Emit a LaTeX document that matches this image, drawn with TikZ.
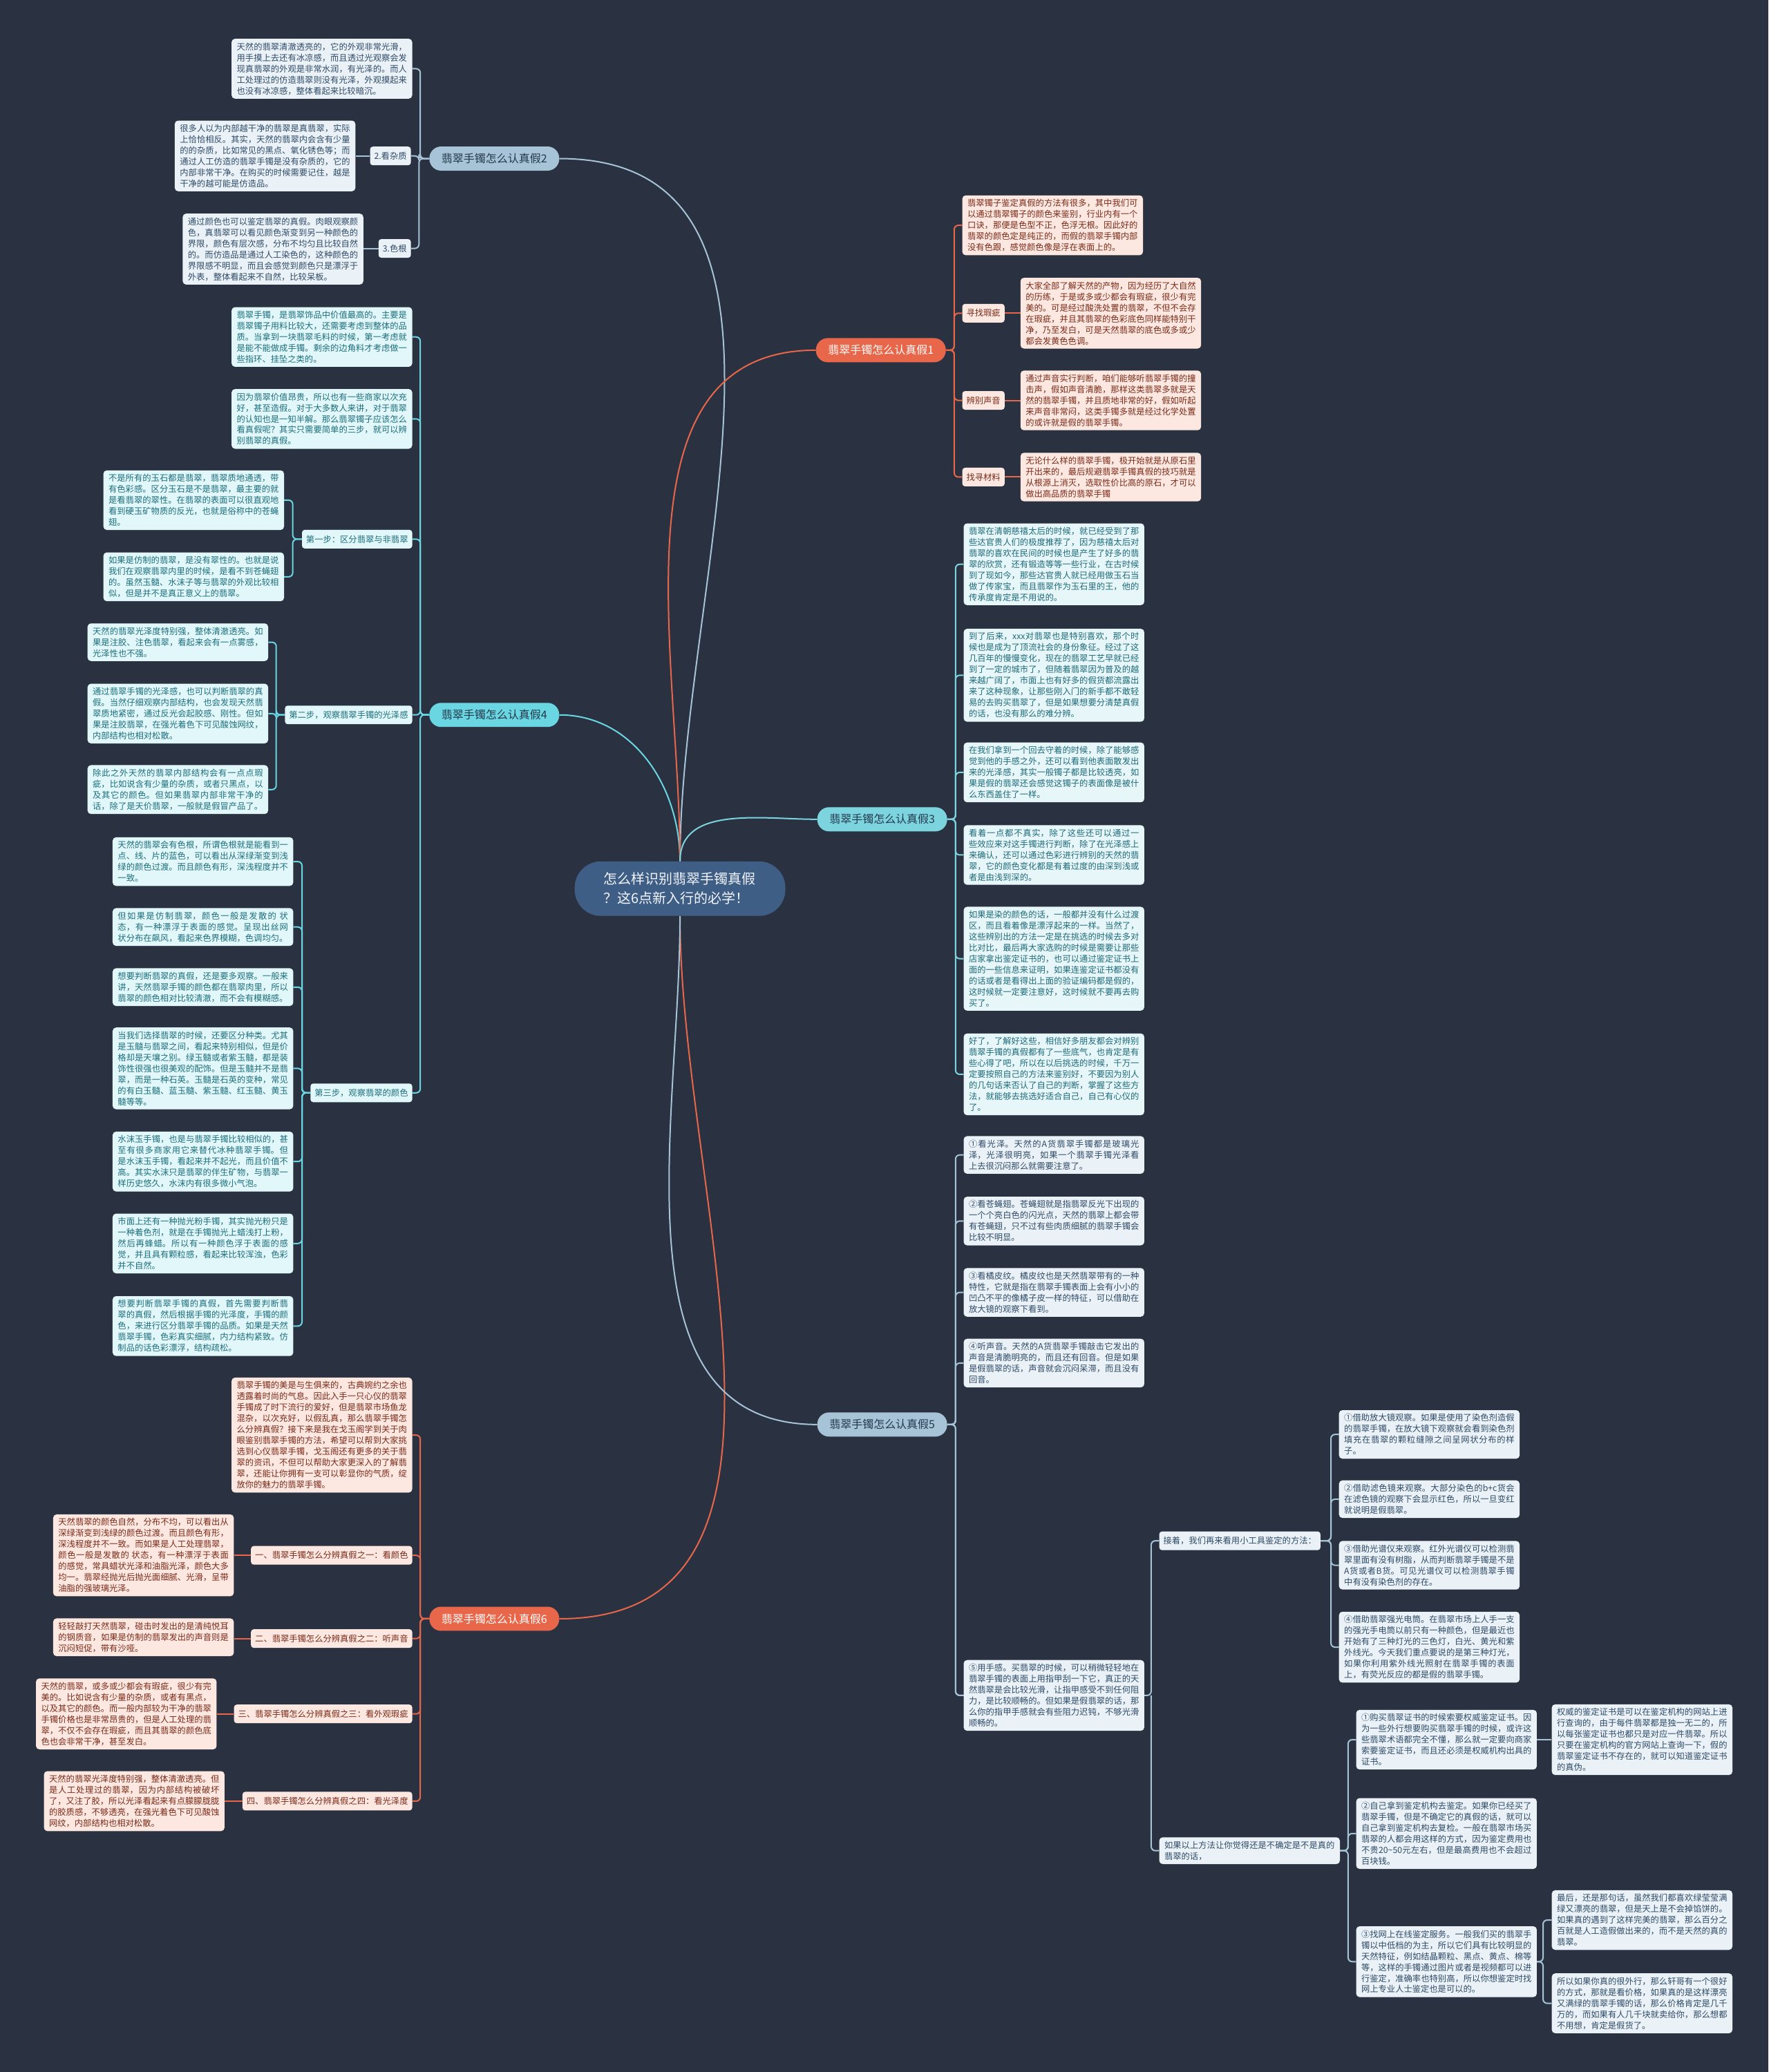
\documentclass[tikz,border=0pt]{standalone}
\usepackage{fontspec}
\setmainfont{Noto Sans CJK SC}
\usetikzlibrary{calc}
\XeTeXlinebreaklocale "zh"
\XeTeXlinebreakskip=0pt plus 1pt
\pgfdeclarelayer{back}
\pgfdeclarelayer{lines}
\pgfsetlayers{back,lines,main}
\definecolor{bgc}{HTML}{2A3241}
\definecolor{centerc}{HTML}{3F5E86}
\definecolor{centert}{HTML}{F2F5F9}
\definecolor{darkt}{HTML}{25384C}
\definecolor{greyb}{HTML}{A6C3D8}
\definecolor{greyl}{HTML}{EBF2F7}
\definecolor{greyt}{HTML}{2E4A66}
\definecolor{cyanb}{HTML}{6AD6E2}
\definecolor{cyanl}{HTML}{E2F7F9}
\definecolor{cyant}{HTML}{1B6E7C}
\definecolor{aquab}{HTML}{7CD4DF}
\definecolor{aqual}{HTML}{E6F6F9}
\definecolor{aquat}{HTML}{1E6A78}
\definecolor{redb}{HTML}{E8674A}
\definecolor{redl}{HTML}{FCE8E1}
\definecolor{redt}{HTML}{7A2A18}
\tikzset{
  leaf/.style={rounded corners=5pt, text width=246.5pt, inner xsep=7.5pt, inner ysep=5.5pt, align=justify, font=\fontsize{12.3pt}{16pt}\selectfont},
  gl/.style={leaf, fill=greyl, text=greyt},
  cl/.style={leaf, fill=cyanl, text=cyant},
  al/.style={leaf, fill=aqual, text=aquat},
  rl/.style={leaf, fill=redl, text=redt},
  lab/.style={rounded corners=4pt, inner xsep=6pt, inner ysep=0pt, minimum height=27pt, font=\fontsize{12.3pt}{15pt}\selectfont},
  glab/.style={lab, fill=greyl, text=greyt},
  clab/.style={lab, fill=cyanl, text=cyant},
  rlab/.style={lab, fill=redl, text=redt},
  branch/.style={rounded corners=17pt, minimum width=188pt, minimum height=35pt, inner sep=0pt, font=\fontsize{16pt}{18pt}\selectfont},
  centre/.style={fill=centerc, text=centert, rounded corners=38pt, minimum width=305pt, minimum height=79pt, text width=222pt, inner xsep=41pt, align=left, font=\fontsize{20pt}{28pt}\selectfont},
  conn/.style={line width=2pt, rounded corners=6pt}
}
\newcommand\myl[4]{\draw[conn,#1] (#2.west) -| ($(#3.east)+(#4,0)$) -- (#3.east);}
\newcommand\myr[4]{\draw[conn,#1] (#2.east) -| ($(#3.west)+(-#4,0)$) -- (#3.west);}
\newcommand\myh[3]{\draw[conn,#1] (#2.west) -- (#2.west -| #3.east);}
\newcommand\myhr[3]{\draw[conn,#1] (#2.east) -- (#2.east -| #3.west);}
\begin{document}
\begin{tikzpicture}[x=1.9133pt,y=-1.9133pt]
\begin{pgfonlayer}{back}
\fill[bgc] (0,0) rectangle (1338,1568);
\end{pgfonlayer}
\useasboundingbox (0,0) rectangle (1338,1568);

% centre and branches
\node[centre] (C) at (514.5,672.5) {怎么样识别翡翠手镯真假\\？这6点新入行的必学！};
\node[branch, fill=greyb, text=darkt] (B2) at (374,120) {翡翠手镯怎么认真假2};
\node[branch, fill=cyanb, text=darkt] (B4) at (374,541) {翡翠手镯怎么认真假4};
\node[branch, fill=redb, text=white] (B6) at (374,1225) {翡翠手镯怎么认真假6};
\node[branch, fill=redb, text=white] (B1) at (666.5,265) {翡翠手镯怎么认真假1};
\node[branch, fill=aquab, text=darkt] (B3) at (667.5,620) {翡翠手镯怎么认真假3};
\node[branch, fill=greyb, text=darkt] (B5) at (667.5,1078) {翡翠手镯怎么认真假5};

% branch 2
\node[gl, anchor=east] (L2a) at (312,52) {天然的翡翠清澈透亮的，它的外观非常光滑，用手摸上去还有冰凉感，而且透过光观察会发现真翡翠的外观是非常水润，有光泽的。而人工处理过的仿造翡翠则没有光泽，外观摸起来也没有冰凉感，整体看起来比较暗沉。};
\node[glab, anchor=east] (lab2b) at (311,118) {2.看杂质};
\node[gl, anchor=east] (L2b) at (269,118) {很多人以为内部越干净的翡翠是真翡翠，实际上恰恰相反。其实，天然的翡翠内会含有少量的的杂质，比如常见的黑点、氧化锈色等；而通过人工仿造的翡翠手镯是没有杂质的，它的内部非常干净。在购买的时候需要记住，越是干净的越可能是仿造品。};
\node[glab, anchor=east] (lab2c) at (311,188) {3.色根};
\node[gl, anchor=east] (L2c) at (275,188.5) {通过颜色也可以鉴定翡翠的真假。肉眼观察颜色，真翡翠可以看见颜色渐变到另一种颜色的界限，颜色有层次感，分布不均匀且比较自然的。而仿造品是通过人工染色的，这种颜色的界限感不明显，而且会感觉到颜色只是漂浮于外表，整体看起来不自然，比较呆板。};

% branch 4
\node[cl, anchor=east] (L4a) at (312,255) {翡翠手镯，是翡翠饰品中价值最高的。主要是翡翠镯子用料比较大，还需要考虑到整体的品质。当拿到一块翡翠毛料的时候，第一考虑就是能不能做成手镯。剩余的边角料才考虑做一些指环、挂坠之类的。};
\node[cl, anchor=east] (L4b) at (312,317) {因为翡翠价值昂贵，所以也有一些商家以次充好，甚至造假。对于大多数人来讲，对于翡翠的认知也是一知半解。那么翡翠镯子应该怎么看真假呢？其实只需要简单的三步，就可以辨别翡翠的真假。};
\node[clab, anchor=east] (S1) at (312,408) {第一步：区分翡翠与非翡翠};
\node[cl, anchor=east] (L4c) at (215,378.5) {不是所有的玉石都是翡翠，翡翠质地通透，带有色彩感。区分玉石是不是翡翠，最主要的就是看翡翠的翠性。在翡翠的表面可以很直观地看到硬玉矿物质的反光，也就是俗称中的苍蝇翅。};
\node[cl, anchor=east] (L4d) at (215,436.5) {如果是仿制的翡翠，是没有翠性的。也就是说我们在观察翡翠内里的时候，是看不到苍蝇翅的。虽然玉髓、水沫子等与翡翠的外观比较相似，但是并不是真正意义上的翡翠。};
\node[clab, anchor=east] (S2) at (312,541) {第二步，观察翡翠手镯的光泽感};
\node[cl, anchor=east] (L4e) at (203,486) {天然的翡翠光泽度特别强，整体清澈透亮。如果是注胶、注色翡翠，看起来会有一点雾感，光泽性也不强。};
\node[cl, anchor=east] (L4f) at (203,540) {通过翡翠手镯的光泽感，也可以判断翡翠的真假。当然仔细观察内部结构，也会发现天然翡翠质地紧密，通过反光会起胶感、刚性。但如果是注胶翡翠，在强光着色下可见酸蚀网纹，内部结构也相对松散。};
\node[cl, anchor=east] (L4g) at (203,597.5) {除此之外天然的翡翠内部结构会有一点点瑕疵，比如说含有少量的杂质，或者只黑点，以及其它的颜色。但如果翡翠内部非常干净的话，除了是天价翡翠，一般就是假冒产品了。};
\node[clab, anchor=east] (S3) at (312,827) {第三步，观察翡翠的颜色};
\node[cl, anchor=east] (L4h) at (222,652) {天然的翡翠会有色根，所谓色根就是能看到一点、线、片的蓝色，可以看出从深绿渐变到浅绿的颜色过渡。而且颜色有形，深浅程度并不一致。};
\node[cl, anchor=east] (L4i) at (222,701.5) {但如果是仿制翡翠，颜色一般是发散的 状态，有一种漂浮于表面的感觉。呈现出丝网状分布在飙风，看起来色界模糊，色调均匀。};
\node[cl, anchor=east] (L4j) at (222,747) {想要判断翡翠的真假，还是要多观察。一般来讲，天然翡翠手镯的颜色都在翡翠肉里，所以翡翠的颜色相对比较清澈，而不会有模糊感。};
\node[cl, anchor=east] (L4k) at (222,808.5) {当我们选择翡翠的时候，还要区分种类。尤其是玉髓与翡翠之间，看起来特别相似，但是价格却是天壤之别。绿玉髓或者紫玉髓，都是装饰性很强也很美观的配饰。但是玉髓并不是翡翠，而是一种石英。玉髓是石英的变种，常见的有白玉髓、蓝玉髓、紫玉髓、红玉髓、黄玉髓等等。};
\node[cl, anchor=east] (L4l) at (222,879) {水沫玉手镯，也是与翡翠手镯比较相似的，甚至有很多商家用它来替代冰种翡翠手镯。但是水沫玉手镯，看起来并不起光，而且价值不高。其实水沫只是翡翠的伴生矿物，与翡翠一样历史悠久，水沫内有很多微小气泡。};
\node[cl, anchor=east] (L4m) at (222,941) {市面上还有一种抛光粉手镯，其实抛光粉只是一种着色剂，就是在手镯抛光上蜡浅打上粉，然后再蜂蜡。所以有一种颜色浮于表面的感觉，并且具有颗粒感，看起来比较浑浊，色彩并不自然。};
\node[cl, anchor=east] (L4n) at (222,1003.5) {想要判断翡翠手镯的真假，首先需要判断翡翠的真假，然后根据手镯的光泽度，手镯的颜色，来进行区分翡翠手镯的品质。如果是天然翡翠手镯，色彩真实细腻，内力结构紧致。仿制品的话色彩漂浮，结构疏松。};

% branch 6
\node[rl, anchor=east] (L6a) at (312,1086) {翡翠手镯的美是与生俱来的，古典婉约之余也透露着时尚的气息。因此入手一只心仪的翡翠手镯成了时下流行的爱好，但是翡翠市场鱼龙混杂，以次充好，以假乱真，那么翡翠手镯怎么分辨真假？接下来是我在戈玉阁学到关于肉眼鉴别翡翠手镯的方法，希望可以帮到大家挑选到心仪翡翠手镯，戈玉阁还有更多的关于翡翠的资讯，不但可以帮助大家更深入的了解翡翠，还能让你拥有一支可以彰显你的气质，绽放你的魅力的翡翠手镯。};
\node[rlab, anchor=east] (lab6b) at (312,1177) {一、翡翠手镯怎么分辨真假之一：看颜色};
\node[rl, anchor=east] (L6b) at (177,1177) {天然翡翠的颜色自然，分布不均，可以看出从深绿渐变到浅绿的颜色过渡。而且颜色有形，深浅程度并不一致。而如果是人工处理翡翠，颜色一般是发散的 状态，有一种漂浮于表面的感觉，常具蜡状光泽和油脂光泽，颜色大多均一。翡翠经抛光后抛光面细腻、光滑，呈带油脂的强玻璃光泽。};
\node[rlab, anchor=east] (lab6c) at (312,1240) {二、翡翠手镯怎么分辨真假之二：听声音};
\node[rl, anchor=east] (L6c) at (177,1239) {轻轻敲打天然翡翠，碰击时发出的是清纯悦耳的钢质音，如果是仿制的翡翠发出的声音则是沉闷短促，带有沙哑。};
\node[rlab, anchor=east] (lab6d) at (312,1297) {三、翡翠手镯怎么分辨真假之三：看外观瑕疵};
\node[rl, anchor=east] (L6d) at (164,1297) {天然的翡翠，或多或少都会有瑕疵，很少有完美的。比如说含有少量的杂质，或者有黑点，以及其它的颜色。而一般内部较为干净的翡翠手镯价格也是非常昂贵的，但是人工处理的翡翠，不仅不会存在瑕疵，而且其翡翠的颜色底色也会非常干净，甚至发白。};
\node[rlab, anchor=east] (lab6e) at (312,1363) {四、翡翠手镯怎么分辨真假之四：看光泽度};
\node[rl, anchor=east] (L6e) at (170,1363) {天然的翡翠光泽度特别强，整体清澈透亮。但是人工处理过的翡翠，因为内部结构被破坏了，又注了胶，所以光泽看起来有点朦朦胧胧的胶质感，不够透亮，在强光着色下可见酸蚀网纹，内部结构也相对松散。};

% branch 1
\node[rl, anchor=west] (L1a) at (728,170.5) {翡翠镯子鉴定真假的方法有很多，其中我们可以通过翡翠镯子的颜色来鉴别，行业内有一个口诀，那便是色型不正，色浮无根。因此好的翡翠的颜色定是纯正的，而假的翡翠手镯内部没有色跟，感觉颜色像是浮在表面上的。};
\node[rlab, anchor=west] (lab1b) at (728,237) {寻找瑕疵};
\node[rl, anchor=west] (L1b) at (772,237) {大家全部了解天然的产物，因为经历了大自然的历练，于是或多或少都会有瑕疵，很少有完美的。可是经过酸洗处置的翡翠，不但不会存在瑕疵，并且其翡翠的色彩底色同样能特别干净，乃至发白，可是天然翡翠的底色或多或少都会发黄色色调。};
\node[rlab, anchor=west] (lab1c) at (728,303) {辨别声音};
\node[rl, anchor=west] (L1c) at (772,303) {通过声音实行判断，咱们能够听翡翠手镯的撞击声，假如声音清脆，那样这类翡翠多就是天然的翡翠手镯，并且质地非常的好，假如听起来声音非常闷，这类手镯多就是经过化学处置的或许就是假的翡翠手镯。};
\node[rlab, anchor=west] (lab1d) at (728,361) {找寻材料};
\node[rl, anchor=west] (L1d) at (772,361) {无论什么样的翡翠手镯，极开始就是从原石里开出来的，最后规避翡翠手镯真假的技巧就是从根源上消灭，选取性价比高的原石，才可以做出高品质的翡翠手镯};

% branch 3
\node[al, anchor=west] (L3a) at (729,427) {翡翠在清朝慈禧太后的时候，就已经受到了那些达官贵人们的极度推荐了，因为慈禧太后对翡翠的喜欢在民间的时候也是产生了好多的翡翠的欣赏，还有锻造等等一些行业，在古时候到了现如今，那些达官贵人就已经用做玉石当做了传家宝，而且翡翠作为玉石里的王，他的传承度肯定是不用说的。};
\node[al, anchor=west] (L3b) at (729,511) {到了后来，xxx对翡翠也是特别喜欢，那个时候也是成为了顶流社会的身份象征。经过了这几百年的慢慢变化，现在的翡翠工艺早就已经到了一定的城市了，但随着翡翠因为普及的越来越广阔了，市面上也有好多的假货都流露出来了这种现象，让那些刚入门的新手都不敢轻易的去购买翡翠了，但是如果想要分清楚真假的话，也没有那么的难分辨。};
\node[al, anchor=west] (L3c) at (729,584.5) {在我们拿到一个回去守着的时候，除了能够感觉到他的手感之外，还可以看到他表面散发出来的光泽感，其实一般镯子都是比较透亮，如果是假的翡翠还会感觉这镯子的表面像是被什么东西盖住了一样。};
\node[al, anchor=west] (L3d) at (729,647) {看着一点都不真实，除了这些还可以通过一些效应来对这手镯进行判断，除了在光泽感上来确认，还可以通过色彩进行辨别的天然的翡翠，它的颜色变化都是有着过度的由深到浅或者是由浅到深的。};
\node[al, anchor=west] (L3e) at (729,725.5) {如果是染的颜色的话，一般都并没有什么过渡区，而且看着像是漂浮起来的一样。当然了，这些辨别出的方法一定是在挑选的时候去多对比对比，最后再大家选购的时候是需要让那些店家拿出鉴定证书的，也可以通过鉴定证书上面的一些信息来证明，如果连鉴定证书都没有的话或者是看得出上面的验证编码都是假的，这时候就一定要注意好，这时候就不要再去购买了。};
\node[al, anchor=west] (L3f) at (729,813) {好了，了解好这些，相信好多朋友都会对辨别翡翠手镯的真假都有了一些底气，也肯定是有些心得了吧，所以在以后挑选的时候，千万一定要按照自己的方法来鉴别好，不要因为别人的几句话来否认了自己的判断，掌握了这些方法，就能够去挑选好适合自己，自己有心仪的了。};

% branch 5
\node[gl, anchor=west] (L5a) at (729,874) {①看光泽。天然的A货翡翠手镯都是玻璃光泽，光泽很明亮，如果一个翡翠手镯光泽看上去很沉闷那么就需要注意了。};
\node[gl, anchor=west] (L5b) at (729,924) {②看苍蝇翅。苍蝇翅就是指翡翠反光下出现的一个个亮白色的闪光点，天然的翡翠上都会带有苍蝇翅，只不过有些肉质细腻的翡翠手镯会比较不明显。};
\node[gl, anchor=west] (L5c) at (729,978) {③看橘皮纹。橘皮纹也是天然翡翠带有的一种特性，它就是指在翡翠手镯表面上会有小小的凹凸不平的像橘子皮一样的特征，可以借助在放大镜的观察下看到。};
\node[gl, anchor=west] (L5d) at (729,1031.5) {④听声音。天然的A货翡翠手镯敲击它发出的声音是清脆明亮的，而且还有回音。但是如果是假翡翠的话，声音就会沉闷呆滞，而且没有回音。};
\node[gl, anchor=west] (L5e) at (729,1283) {⑤用手感。买翡翠的时候，可以稍微轻轻地在翡翠手镯的表面上用指甲刮一下它，真正的天然翡翠是会比较光滑，让指甲感受不到任何阻力，是比较顺畅的。但如果是假翡翠的话，那么你的指甲手感就会有些阻力迟钝，不够光滑顺畅的。};
\node[glab, anchor=west] (labT) at (877,1166) {接着，我们再来看用小工具鉴定的方法：};
\node[gl, anchor=west] (T1) at (1013,1085.5) {①借助放大镜观察。如果是使用了染色剂造假的翡翠手镯，在放大镜下观察就会看到染色剂填充在翡翠的颗粒缝隙之间呈网状分布的样子。};
\node[gl, anchor=west] (T2) at (1013,1134.5) {②借助滤色镜来观察。大部分染色的b+c货会在滤色镜的观察下会显示红色，所以一旦变红就说明是假翡翠。};
\node[gl, anchor=west] (T3) at (1013,1184.5) {③借助光谱仪来观察。红外光谱仪可以检测翡翠里面有没有树脂，从而判断翡翠手镯是不是A货或者B货。可见光谱仪可以检测翡翠手镯中有没有染色剂的存在。};
\node[gl, anchor=west] (T4) at (1013,1246.5) {④借助翡翠强光电筒。在翡翠市场上人手一支的强光手电筒以前只有一种颜色，但是最近也开始有了三种灯光的三色灯，白光、黄光和紫外线光。今天我们重点要说的是第三种灯光，如果你利用紫外线光照射在翡翠手镯的表面上，有荧光反应的都是假的翡翠手镯。};
\node[gl, anchor=west] (labU) at (877,1400.5) {如果以上方法让你觉得还是不确定是不是真的翡翠的话，};
\node[gl, anchor=west] (U1) at (1026,1316.5) {①购买翡翠证书的时候索要权威鉴定证书。因为一些外行想要购买翡翠手镯的时候，或许这些翡翠术语都完全不懂，那么就一定要向商家索要鉴定证书，而且还必须是权威机构出具的证书。};
\node[gl, anchor=west] (V1) at (1174,1316.5) {权威的鉴定证书是可以在鉴定机构的网站上进行查询的，由于每件翡翠都是独一无二的，所以每张鉴定证书也都只是对应一件翡翠。所以只要在鉴定机构的官方网站上查询一下，假的翡翠鉴定证书不存在的，就可以知道鉴定证书的真伪。};
\node[gl, anchor=west] (U2) at (1026,1387.5) {②自己拿到鉴定机构去鉴定。如果你已经买了翡翠手镯，但是不确定它的真假的话，就可以自己拿到鉴定机构去复检。一般在翡翠市场买翡翠的人都会用这样的方式，因为鉴定费用也不贵20\textasciitilde50元左右，但是最高费用也不会超过百块钱。};
\node[gl, anchor=west] (U3) at (1026,1484.5) {③找网上在线鉴定服务。一般我们买的翡翠手镯以中低档的为主，所以它们具有比较明显的天然特征，例如结晶颗粒、黑点、黄点、棉等等，这样的手镯通过图片或者是视频都可以进行鉴定，准确率也特别高，所以你想鉴定时找网上专业人士鉴定也是可以的。};
\node[gl, anchor=west] (W1) at (1174,1453) {最后，还是那句话，虽然我们都喜欢绿莹莹满绿又漂亮的翡翠，但是天上是不会掉馅饼的。如果真的遇到了这样完美的翡翠，那么百分之百就是人工造假做出来的，而不是天然的真的翡翠。};
\node[gl, anchor=west] (W2) at (1174,1516) {所以如果你真的很外行，那么轩哥有一个很好的方式，那就是看价格，如果真的是这样漂亮又满绿的翡翠手镯的话，那么价格肯定是几千万的，而如果有人几千块就卖给你，那么想都不用想，肯定是假货了。};

\begin{pgfonlayer}{lines}
% centre to branches
\draw[conn, greyb] (C.north) to[out=90,in=0] (B2.east);
\draw[conn, cyanb] (C.north) to[out=90,in=0] (B4.east);
\draw[conn, redb] (C.north) to[out=90,in=180] (B1.west);
\draw[conn, aquab] (C.north) to[out=90,in=180] (B3.west);
\draw[conn, redb] (C.south) to[out=-90,in=0] (B6.east);
\draw[conn, greyb] (C.south) to[out=-90,in=180] (B5.west);
% branch 2
\myl{greyb}{B2}{L2a}{6}
\myl{greyb}{B2}{lab2b}{6}
\myl{greyb}{B2}{lab2c}{6}
\myh{greyb}{lab2b}{L2b}
\myh{greyb}{lab2c}{L2c}
% branch 4
\myl{cyanb}{B4}{L4a}{6}
\myl{cyanb}{B4}{L4b}{6}
\myl{cyanb}{B4}{S1}{6}
\myl{cyanb}{B4}{S2}{6}
\myl{cyanb}{B4}{S3}{6}
\myl{cyanb}{S1}{L4c}{6.5}
\myl{cyanb}{S1}{L4d}{6.5}
\myl{cyanb}{S2}{L4e}{6}
\myl{cyanb}{S2}{L4f}{6}
\myl{cyanb}{S2}{L4g}{6}
\myl{cyanb}{S3}{L4h}{6.5}
\myl{cyanb}{S3}{L4i}{6.5}
\myl{cyanb}{S3}{L4j}{6.5}
\myl{cyanb}{S3}{L4k}{6.5}
\myl{cyanb}{S3}{L4l}{6.5}
\myl{cyanb}{S3}{L4m}{6.5}
\myl{cyanb}{S3}{L4n}{6.5}
% branch 6
\myl{redb}{B6}{L6a}{6}
\myl{redb}{B6}{lab6b}{6}
\myl{redb}{B6}{lab6c}{6}
\myl{redb}{B6}{lab6d}{6}
\myl{redb}{B6}{lab6e}{6}
\myh{redb}{lab6b}{L6b}
\myh{redb}{lab6c}{L6c}
\myh{redb}{lab6d}{L6d}
\myh{redb}{lab6e}{L6e}
% branch 1
\myr{redb}{B1}{L1a}{6}
\myr{redb}{B1}{lab1b}{6}
\myr{redb}{B1}{lab1c}{6}
\myr{redb}{B1}{lab1d}{6}
\myhr{redb}{lab1b}{L1b}
\myhr{redb}{lab1c}{L1c}
\myhr{redb}{lab1d}{L1d}
% branch 3
\myr{aquab}{B3}{L3a}{6}
\myr{aquab}{B3}{L3b}{6}
\myr{aquab}{B3}{L3c}{6}
\myr{aquab}{B3}{L3d}{6}
\myr{aquab}{B3}{L3e}{6}
\myr{aquab}{B3}{L3f}{6}
% branch 5
\myr{greyb}{B5}{L5a}{6}
\myr{greyb}{B5}{L5b}{6}
\myr{greyb}{B5}{L5c}{6}
\myr{greyb}{B5}{L5d}{6}
\myr{greyb}{B5}{L5e}{6}
\coordinate (J5) at (871,1283);
\draw[conn, greyb] (B5.east) -| (723,1283) -- (J5) |- (labT.west);
\draw[conn, greyb] (J5) |- (labU.west);
\myr{greyb}{labT}{T1}{6}
\myr{greyb}{labT}{T2}{6}
\myr{greyb}{labT}{T3}{6}
\myr{greyb}{labT}{T4}{6}
\myr{greyb}{labU}{U1}{6}
\myr{greyb}{labU}{U2}{6}
\myr{greyb}{labU}{U3}{6}
\myhr{greyb}{U1}{V1}
\myr{greyb}{U3}{W1}{6.5}
\myr{greyb}{U3}{W2}{6.5}
\end{pgfonlayer}
\end{tikzpicture}
\end{document}
